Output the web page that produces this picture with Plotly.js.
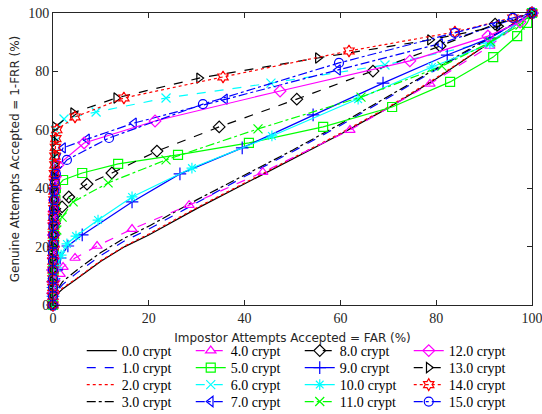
<!DOCTYPE html>
<html>
<head>
<meta charset="utf-8">
<script src="https://cdn.plot.ly/plotly-3.0.1.min.js"></script>
<style>html,body{margin:0;padding:0;background:#fff;}#chart{width:542px;height:414px;}</style>
</head>
<body>
<div id="chart"></div>
<script>
// Series names
const seriesNames = ["0.0 crypt","1.0 crypt","2.0 crypt","3.0 crypt","4.0 crypt","5.0 crypt","6.0 crypt","7.0 crypt",
  "8.0 crypt","9.0 crypt","10.0 crypt","11.0 crypt","12.0 crypt","13.0 crypt","14.0 crypt","15.0 crypt"];

// FAR (%) and GAR = 1-FRR (%) per series
const far0 = [0,0.2,0.5,1,2,5,10,15,20,30,40,50,60,70,80,90,95,100];
const gar0 = [0,1,2.5,4,5.5,9,15,20,24,33,41.5,50,58.5,67.5,77.5,88.5,94,100];
const far1 = [0,0.2,0.5,1,2,5,10,15,20,30,40,50,60,70,80,90,95,100];
const gar1 = [0,1.5,3,5,7,11,17,22,26,35,44,52.5,61.5,71,80.5,90,95,100];
const far2 = [0,0.2,0.5,1,2,5,10,15,20,30,40,50,60,70,80,90,95,100];
const gar2 = [0,1.2,2.7,4.2,5.8,9.2,15.2,20.2,24.3,33.3,41.8,50.2,58.8,67.8,77.8,88.6,94,100];
const far3 = [0,0.2,0.5,1,2,5,10,15,20,30,40,50,60,70,80,90,95,100];
const gar3 = [0,2,3.5,5.5,8,12,18,23,27,36,44.5,53,62,71.5,81,90.5,95.5,100];
const far4 = [0,0,0.1,0.2,0.4,1.5,2.1,4.6,9.2,16.5,28.4,43.8,62.0,78.7,91.2,100];
const gar4 = [0,2.5,5,7.5,9,10.6,13.0,16.1,20.2,26.0,34.2,45.5,59.9,75.7,88.7,100];
const far5 = [0,0,0,0.1,0.1,0.2,0.2,0.3,0.4,0.5,0.6,2.1,6.1,13.6,26.1,40.9,56.4,70.8,82.9,91.9,96.9,99.0,100];
const gar5 = [0,4,8,12,16,20,24,28,32,36,40,42.8,45.2,48.3,51.4,55.5,61.0,67.8,76.4,84.9,92.1,96.6,100];
const far6 = [0,0,0,0,0.1,0.1,0.1,0.2,0.2,0.3,0.3,0.4,0.4,0.5,0.5,0.6,2.3,9.0,23.6,45.5,69.3,91.2,100];
const gar6 = [0,4,8,12,16,20,24,28,32,36,40,44,48,52,56,60,63.7,66.1,70.9,76.0,82.2,90.1,100];
const far7 = [0,0,0,0,0.1,0.1,0.1,0.2,0.2,0.3,0.3,0.4,0.6,2.1,7.1,16.9,35.9,59.5,80.8,92.7,100];
const gar7 = [0,4,8,12,16,20,24,28,32,36,40,44,48,53.8,56.8,62.3,70.5,80.5,89.5,96.0,100];
const far8 = [0,0,0,0,0.1,0.1,0.2,0.3,0.5,1.9,3.3,7.1,12.3,21.7,34.7,50.9,66.8,80.8,92.3,100];
const gar8 = [0,4,8,12,16,20,24,28,31,33.6,37.0,41.4,45.2,52.7,61.0,70.5,80.1,88.7,96.2,100];
const far9 = [0,0,0,0.2,0.8,1.5,3.1,6.1,16.5,26.5,39.5,54.3,68.9,82.3,91.2,100];
const gar9 = [0,3,6,9,12,16.1,20.2,24.0,35.3,44.9,53.8,65.1,76.0,85.6,91.4,100];
const far10 = [0,0,0,0.2,0.8,1.7,2.9,4.8,9.4,16.5,29.0,45.7,63.7,79.1,91.2,100];
const gar10 = [0,3,6,9,12.7,17.1,20.9,23.6,29.1,37.0,46.9,57.9,70.5,81.5,89.4,100];
const far11 = [0,0,0,0,0.1,0.2,0.4,0.8,1.9,4.2,11.5,23.6,42.8,64.3,81.2,91.4,97.5,100];
const gar11 = [0,4,8,12,16,20,23,25.7,30.1,35.3,41.8,49.7,60.3,71.2,81.8,90.1,95.9,100];
const far12 = [0,0,0,0,0.1,0.1,0.1,0.2,0.2,0.3,0.4,0.5,1.0,6.5,21.3,47.4,74.5,90.8,97.5,100];
const gar12 = [0,4,8,12,16,20,24,28,32,36,40,44,47.9,55.5,63.0,73.3,83.6,92.1,96.9,100];
const far13 = [0,0,0,0,0,0.1,0.1,0.1,0.1,0.2,0.2,0.2,0.3,0.3,0.3,0.4,4.2,13.2,30.5,55.3,78.7,93.1,100];
const gar13 = [0,4,8,12,16,20,24,28,32,36,40,44,48,52,56,61,65.8,70.9,77.7,84.6,90.8,95.5,100];
const far14 = [0,0,0,0,0,0,0,0.1,0.1,0.1,0.1,0.2,0.2,0.2,0.3,0.3,0.4,0.4,0.5,0.6,0.8,4.6,14.8,35.5,61.8,83.9,96.0,100];
const gar14 = [0,3,6,9,12,15,18,21,24,27,30,33,36,39,42,45,48,51,54,57,60,64.4,70.9,78.1,87.0,93.5,98.3,100];
const far15 = [0,0,0,0,0,0,0,0.1,0.1,0.1,0.1,0.2,0.2,0.3,0.4,0.6,2.9,11.7,31.3,59.7,83.9,96.0,100];
const gar15 = [0,3,6,9,12,15,18,21,24,27,30,33,36,39,42,45,49.7,57.2,68.8,82.9,93.2,98.3,100];

const xTicks = [0,20,40,60,80,100];
const yTicks = [0,20,40,60,80,100];

const FARS = [far0,far1,far2,far3,far4,far5,far6,far7,far8,far9,far10,far11,far12,far13,far14,far15];
const GARS = [gar0,gar1,gar2,gar3,gar4,gar5,gar6,gar7,gar8,gar9,gar10,gar11,gar12,gar13,gar14,gar15];

const styles = [
  {c:'#000000', d:'solid',   m:null},
  {c:'#0000ff', d:'dash',    m:null},
  {c:'#ff0000', d:'dot',     m:null},
  {c:'#000000', d:'dashdot', m:null},
  {c:'#ff00ff', d:'dash',    m:'triangle-up-open'},
  {c:'#00ff00', d:'solid',   m:'square-open'},
  {c:'#00ffff', d:'dash',    m:'x-thin-open'},
  {c:'#0000ff', d:'dashdot', m:'triangle-left-open'},
  {c:'#000000', d:'dash',    m:'diamond-open'},
  {c:'#0000ff', d:'solid',   m:'cross-thin-open'},
  {c:'#00ffff', d:'solid',   m:'asterisk-open'},
  {c:'#00ff00', d:'dashdot', m:'x-thin-open'},
  {c:'#ff00ff', d:'solid',   m:'diamond-open'},
  {c:'#000000', d:'dash',    m:'triangle-right-open'},
  {c:'#ff0000', d:'dot',     m:'hexagram-open'},
  {c:'#0000ff', d:'dashdot', m:'circle-open'}
];

const legendIds = ['legend', 'legend2', 'legend3', 'legend4'];

const traces = seriesNames.map((name, i) => {
  const s = styles[i];
  const t = {
    type: 'scatter',
    x: FARS[i], y: GARS[i], name: name,
    mode: s.m ? 'lines+markers' : 'lines',
    line: {color: s.c, dash: s.d, width: 1.2},
    cliponaxis: false,
    legend: legendIds[i % 4]
  };
  if (s.m) t.marker = {symbol: s.m, size: 9, color: s.c, line: {color: s.c, width: 1.2}};
  return t;
});

const axisCommon = {
  range: [0, 100], showgrid: false, zeroline: false,
  showline: true, linecolor: '#262626', linewidth: 1, mirror: 'ticks',
  ticks: 'inside', ticklen: 5, tickcolor: '#262626',
  ticklabeloverflow: 'allow',
  tickfont: {family: 'Liberation Serif', size: 14, color: '#262626'}
};

function legendAt(yPaper) {
  return {
    orientation: 'h', x: 0.06, xanchor: 'left', y: yPaper, yanchor: 'middle',
    entrywidth: 64, entrywidthmode: 'pixels',
    font: {family: 'Liberation Serif', size: 14, color: '#000'},
    bgcolor: 'rgba(0,0,0,0)', borderwidth: 0, tracegroupgap: 0
  };
}

const layout = {
  width: 542, height: 414,
  margin: {l: 53, r: 10, t: 13, b: 109, autoexpand: false},
  paper_bgcolor: '#fff', plot_bgcolor: '#fff',
  showlegend: true,
  xaxis: Object.assign({}, axisCommon, {
    tickvals: xTicks, ticktext: xTicks.map(String),
    title: {text: 'Impostor Attempts Accepted = FAR (%)', standoff: 8,
            font: {family: 'DejaVu Sans', size: 12, color: '#262626'}}
  }),
  yaxis: Object.assign({}, axisCommon, {
    tickvals: yTicks, ticktext: yTicks.map(String),
    title: {text: 'Genuine Attempts Accepted = 1-FRR (%)', standoff: 6,
            font: {family: 'DejaVu Sans', size: 12, color: '#262626'}}
  }),
  legend: legendAt(-0.1575),
  legend2: legendAt(-0.2158),
  legend3: legendAt(-0.274),
  legend4: legendAt(-0.332)
};

Plotly.newPlot('chart', traces, layout, {displayModeBar: false, staticPlot: true});
</script>
</body>
</html>
